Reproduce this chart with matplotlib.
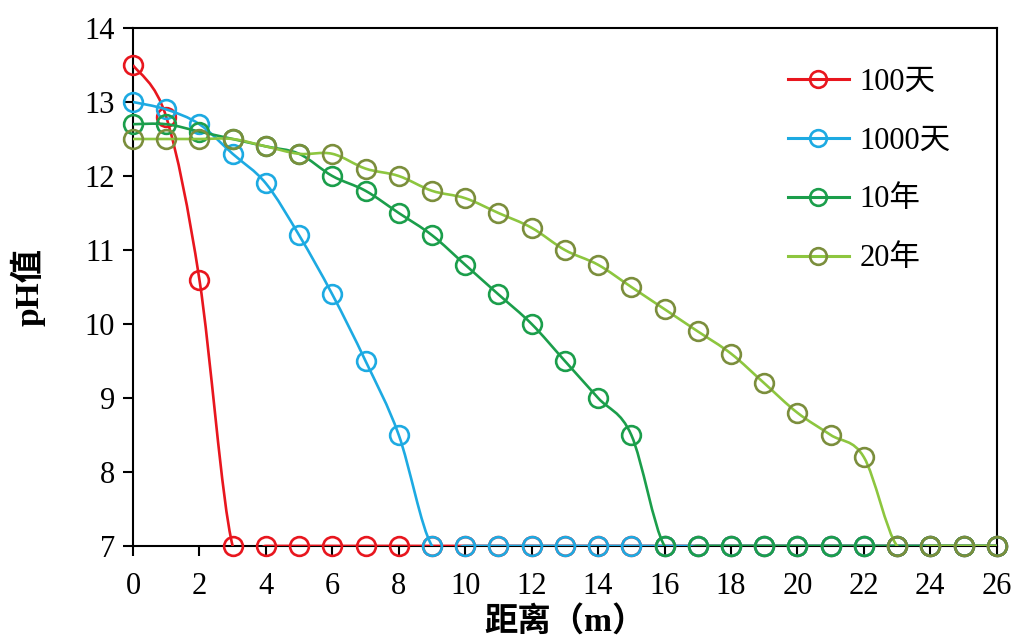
import matplotlib
matplotlib.use("Agg")
import matplotlib.pyplot as plt
from matplotlib.path import Path
from matplotlib.patches import PathPatch
from matplotlib.lines import Line2D
import numpy as np

distance = list(range(0, 27))
ph_100d = [13.5, 12.8, 10.6] + [7.0] * 24
ph_1000d = [13.0, 12.9, 12.7, 12.3, 11.9, 11.2, 10.4, 9.5, 8.5] + [7.0] * 18
ph_10y = [12.7, 12.7, 12.6, 12.5, 12.4, 12.3, 12.0, 11.8, 11.5, 11.2, 10.8,
          10.4, 10.0, 9.5, 9.0, 8.5] + [7.0] * 11
ph_20y = [12.5, 12.5, 12.5, 12.5, 12.4, 12.3, 12.3, 12.1, 12.0, 11.8, 11.7,
          11.5, 11.3, 11.0, 10.8, 10.5, 10.2, 9.9, 9.6, 9.2, 8.8, 8.5, 8.2] + [7.0] * 4
labels = ["100天", "1000天", "10年", "20年"]
xticks = list(range(0, 27, 2))
yticks = list(range(7, 15))

line_colors = ["#E8161E", "#1DAAE2", "#1B9E4B", "#8DC63F"]
marker_colors = ["#E8161E", "#1DAAE2", "#1B9E4B", "#7B8E3C"]

FONT = ["Liberation Serif", "Noto Sans CJK SC"]

fig = plt.figure(figsize=(10.15, 6.37), dpi=100)
ax = fig.add_axes([0.131, 0.143, 0.851, 0.813])


def smooth_path(xs, ys):
    xs = np.asarray(xs, float)
    ys = np.asarray(ys, float)
    n = len(xs)
    verts = [(xs[0], ys[0])]
    codes = [Path.MOVETO]
    for i in range(n - 1):
        i0 = max(i - 1, 0)
        i3 = min(i + 2, n - 1)
        c1 = (xs[i] + (xs[i + 1] - xs[i0]) / 6, ys[i] + (ys[i + 1] - ys[i0]) / 6)
        c2 = (xs[i + 1] - (xs[i3] - xs[i]) / 6, ys[i + 1] - (ys[i3] - ys[i]) / 6)
        verts += [c1, c2, (xs[i + 1], ys[i + 1])]
        codes += [Path.CURVE4] * 3
    return Path(verts, codes)


handles = []
for k, (ys, lab) in enumerate(zip([ph_100d, ph_1000d, ph_10y, ph_20y], labels)):
    patch = PathPatch(smooth_path(distance, ys), facecolor="none",
                      edgecolor=line_colors[k], lw=1.9, zorder=3 + 2 * k,
                      clip_on=True)
    ax.add_patch(patch)
    ax.plot(distance, ys, linestyle="none", marker="o", ms=13.5,
            mfc="none", mec=marker_colors[k], mew=1.9, zorder=4 + 2 * k,
            clip_on=False)
    handles.append(Line2D([], [], color=line_colors[k], lw=2.2, marker="o",
                          ms=12, mfc="none", mec=marker_colors[k], mew=1.9))

ax.set_xlim(0, 26)
ax.set_ylim(7, 14)
ax.set_xticks(xticks)
ax.set_yticks(yticks)
ax.tick_params(direction="out", length=7, width=1.5, top=False, right=False)
ax.tick_params(axis="x", pad=12)
ax.tick_params(axis="y", pad=6)
for lab in ax.get_xticklabels() + ax.get_yticklabels():
    lab.set_family(FONT)
    lab.set_fontsize(22)
for s in ax.spines.values():
    s.set_linewidth(1.5)
    s.set_color("black")

ax.set_xlabel("距离（m）", fontsize=24, fontweight="bold", family=FONT, labelpad=3)
ax.set_ylabel("pH值", fontsize=24, fontweight="bold", family=FONT, labelpad=28)

leg = ax.legend(handles, labels, loc="upper left", bbox_to_anchor=(0.726, 0.977),
                frameon=False, prop={"family": FONT, "size": 22},
                handlelength=2.0, labelspacing=0.98, handletextpad=0.35)

fig.savefig("out.png", dpi=100)
